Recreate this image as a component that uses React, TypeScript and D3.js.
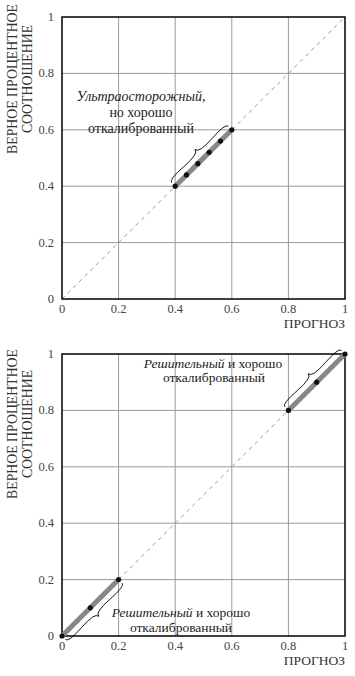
import React from "react";
import * as d3 from "d3";

const tickValues = [0, 0.2, 0.4, 0.6, 0.8, 1];
const tickLabels = ["0", "0.2", "0.4", "0.6", "0.8", "1"];
const gridValues = [0.2, 0.4, 0.6, 0.8];

const cautiousForecast = [0.4, 0.44, 0.48, 0.52, 0.56, 0.6];
const cautiousActual = [0.4, 0.44, 0.48, 0.52, 0.56, 0.6];

const decisiveLowForecast = [0, 0.1, 0.2];
const decisiveLowActual = [0, 0.1, 0.2];
const decisiveHighForecast = [0.8, 0.9, 1];
const decisiveHighActual = [0.8, 0.9, 1];

const yTitle = ["ВЕРНОЕ ПРОЦЕНТНОЕ", "СООТНОШЕНИЕ"];
const xTitle = "ПРОГНОЗ";

const FONT = "Liberation Serif, DejaVu Serif, serif";
const fs = (size: number, extra: React.CSSProperties = {}): React.CSSProperties => ({
  fontFamily: FONT,
  fontSize: size + "px",
  ...extra,
});

function bracePath(
  p1: [number, number],
  p2: [number, number],
  n: [number, number],
  w: number,
  q = 0.6
) {
  const dx = p2[0] - p1[0];
  const dy = p2[1] - p1[1];
  const len = Math.hypot(dx, dy);
  const ux = dx / len, uy = dy / len;
  const P = (t: number, o: number) => [
    p1[0] + ux * len * t + n[0] * o,
    p1[1] + uy * len * t + n[1] * o,
  ];
  const a1 = P(0, q * w);
  const a2 = P(0.25, (1 - q) * w);
  const tip = P(0.5, w);
  const b1 = P(1, q * w);
  const b2 = P(0.75, (1 - q) * w);
  return `M${p1[0]},${p1[1]} Q${a1[0]},${a1[1]} ${a2[0]},${a2[1]} T${tip[0]},${tip[1]} M${p2[0]},${p2[1]} Q${b1[0]},${b1[1]} ${b2[0]},${b2[1]} T${tip[0]},${tip[1]}`;
}

type Seg = { f: number[]; a: number[]; side: number };

function Panel({
  top,
  segs,
  titleCenter,
  children,
}: {
  top: number;
  segs: Seg[];
  titleCenter: number;
  children?: React.ReactNode;
}) {
  const left = 62, right = 345, h = 282;
  const x = d3.scaleLinear().domain([0, 1]).range([left, right]);
  const y = d3.scaleLinear().domain([0, 1]).range([top + h, top]);
  const line = d3
    .line<number>()
    .x((d) => x(d))
    .y((d) => y(d));
  return (
    <g>
      {gridValues.map((v) => (
        <g key={v}>
          <line x1={x(v)} x2={x(v)} y1={y(0)} y2={y(1)} stroke="#9a9a9a" strokeWidth={1} />
          <line x1={x(0)} x2={x(1)} y1={y(v)} y2={y(v)} stroke="#9a9a9a" strokeWidth={1} />
        </g>
      ))}
      <path d={line([0, 1]) || ""} stroke="#999" strokeWidth={1} strokeDasharray="4,4" fill="none" />
      <rect x={x(0)} y={y(1)} width={x(1) - x(0)} height={y(0) - y(1)} fill="none" stroke="#000" strokeWidth={1.5} />
      {segs.map((s, i) => {
        const d = s.f.map((v, k) => [x(v), y(s.a[k])] as [number, number]);
        const first = d[0], last = d[d.length - 1];
        const n: [number, number] = [s.side * Math.SQRT1_2, s.side * Math.SQRT1_2];
        const off = 5;
        const p1: [number, number] = [first[0] + n[0] * off, first[1] + n[1] * off];
        const p2: [number, number] = [last[0] + n[0] * off, last[1] + n[1] * off];
        return (
          <g key={i}>
            <path d={d3.line()(d) || ""} stroke="#888" strokeWidth={5} fill="none" />
            {d.map((p, k) => (
              <circle key={k} cx={p[0]} cy={p[1]} r={2.6} fill="#111" />
            ))}
            <path d={bracePath(p1, p2, n, 7)} stroke="#000" strokeWidth={0.9} fill="none" />
          </g>
        );
      })}
      {tickValues.map((v, i) => (
        <text key={"x" + v} x={x(v)} y={y(0) + 14} textAnchor="middle" fill="#444" style={fs(12.5)}>
          {tickLabels[i]}
        </text>
      ))}
      {tickValues.map((v, i) => (
        <text key={"y" + v} x={54} y={y(v)} dy="0.32em" textAnchor="end" fill="#444" style={fs(12.5)}>
          {tickLabels[i]}
        </text>
      ))}
      <text x={right} y={y(0) + 29} textAnchor="end" fill="#333" style={fs(13.5)}>
        {xTitle}
      </text>
      <text transform={`translate(17,${titleCenter}) rotate(-90)`} textAnchor="middle" fill="#333" style={fs(13.8)}>
        {yTitle[0]}
      </text>
      <text transform={`translate(32,${titleCenter}) rotate(-90)`} textAnchor="middle" fill="#333" style={fs(13.8)}>
        {yTitle[1]}
      </text>
      {children}
    </g>
  );
}

export default function App() {
  return (
    <svg
      width={355}
      height={676}
      style={{ position: "absolute", left: 0, top: 0, background: "#fff" }}
    >
      <rect width={355} height={676} fill="#fff" />
      <Panel top={17} titleCenter={79} segs={[{ f: cautiousForecast, a: cautiousActual, side: -1 }]}>
        <g fill="#222" textAnchor="middle" style={fs(14)}>
          <text x={141} y={101} style={{ fontStyle: "italic" }}>Ультраосторожный,</text>
          <text x={141} y={117}>но хорошо</text>
          <text x={141} y={133}>откалиброванный</text>
        </g>
      </Panel>
      <Panel
        top={354}
        titleCenter={424}
        segs={[
          { f: decisiveLowForecast, a: decisiveLowActual, side: 1 },
          { f: decisiveHighForecast, a: decisiveHighActual, side: -1 },
        ]}
      >
        <g fill="#222" textAnchor="middle" style={fs(13.5)}>
          <text x={213} y={368}>
            <tspan style={{ fontStyle: "italic" }}>Решительный</tspan> и хорошо
          </text>
          <text x={214} y={382}>откалиброванный</text>
          <text x={181} y={617}>
            <tspan style={{ fontStyle: "italic" }}>Решительный</tspan> и хорошо
          </text>
          <text x={181} y={632}>откалиброванный</text>
        </g>
      </Panel>
    </svg>
  );
}
